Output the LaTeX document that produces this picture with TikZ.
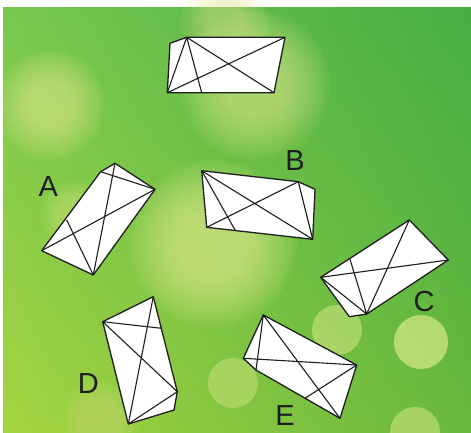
\documentclass[tikz,border=0pt]{standalone}
\usepackage{fontspec}
\newfontfamily\lblfont{Liberation Sans}
\usetikzlibrary{shadings}
\definecolor{GrTL}{RGB}{120,200,80}
\definecolor{GrTR}{RGB}{70,174,68}
\definecolor{GrBL}{RGB}{165,212,64}
\definecolor{GrBR}{RGB}{104,184,62}
\definecolor{Bokeh}{RGB}{236,240,150}
\definecolor{Ink}{RGB}{30,30,30}
% soft bokeh spot: centre, radius, opacity of each ring
\newcommand\softspot[3]{%
  \foreach \k in {0,...,13} \fill[Bokeh,opacity=#3] (#1) circle ({#2*(1-0.045*\k)});}
\begin{document}
\begin{tikzpicture}[x=1pt,y=-1pt,
 shp/.style={draw=Ink,fill=white,line width=1.3pt,line join=round},
 ln/.style={draw=Ink,line width=1.1pt},
 lbl/.style={inner sep=0pt,text=Ink,font=\lblfont\fontsize{29}{29}\selectfont},
 bk/.style={fill=Bokeh,opacity=#1}]
\useasboundingbox (0,0) rectangle (471,432);
% background
\fill[white] (0,0) rectangle (471,432);
\shade[upper left=GrTL,upper right=GrTR,lower left=GrBL,lower right=GrBR] (3,7) rectangle (471,432);
\softspot{225,22}{45}{.04}
\softspot{50,105}{55}{.055}
\softspot{255,85}{75}{.055}
\softspot{213,244}{84}{.065}
\softspot{75,215}{35}{.035}
\softspot{100,420}{40}{.03}
\fill[bk=.45] (337,330) circle (25);
\fill[bk=.6] (421,342) circle (27);
\fill[bk=.35] (233,383) circle (25);
\fill[bk=.45] (415,432) circle (25);
% top shape
\coordinate (t1) at (170,43.3);
\coordinate (t2) at (186.7,37.3);
\coordinate (t3) at (285,37.3);
\coordinate (t4) at (274,92.7);
\coordinate (t5) at (167.3,92.7);
\coordinate (t6) at (201.7,92.7);
\draw[shp] (t1)--(t2)--(t3)--(t4)--(t5)--cycle;
\draw[ln] (t2)--(t5) (t2)--(t6) (t2)--(t4) (t5)--(t3);
% A
\coordinate (a1) at (100.7,171.7);
\coordinate (a2) at (115,163.3);
\coordinate (a3) at (155,189.3);
\coordinate (a4) at (93.3,275);
\coordinate (a5) at (41.7,250.7);
\coordinate (a6) at (66.7,220);
\draw[shp] (a1)--(a2)--(a3)--(a4)--(a5)--cycle;
\draw[ln] (a2)--(a4) (a1)--(a3) (a3)--(a5) (a6)--(a4);
\node[lbl] (la) at (48.3,186.7) {A};
% B
\coordinate (b1) at (201.7,170.7);
\coordinate (b2) at (298.3,181.7);
\coordinate (b3) at (315,189.3);
\coordinate (b4) at (312.7,239.3);
\coordinate (b5) at (206.7,227.3);
\coordinate (b6) at (235,230);
\draw[shp] (b1)--(b2)--(b3)--(b4)--(b5)--cycle;
\draw[ln] (b1)--(b4) (b1)--(b6) (b5)--(b2) (b2)--(b4);
\node[lbl] (lb) at (295,160.7) {B};
% C
\coordinate (c1) at (409.3,220);
\coordinate (c2) at (448.3,260);
\coordinate (c3) at (366.7,314);
\coordinate (c4) at (349.3,316.7);
\coordinate (c5) at (320.7,277.3);
\coordinate (c6) at (350,259.3);
\draw[shp] (c1)--(c2)--(c3)--(c4)--(c5)--cycle;
\draw[ln] (c5)--(c2) (c1)--(c3) (c6)--(c3) (c5)--(c3);
\node[lbl] (lc) at (424,301.7) {C};
% D
\coordinate (d1) at (102.7,321.7);
\coordinate (d2) at (153.3,296.7);
\coordinate (d3) at (177.3,391.7);
\coordinate (d4) at (174,410);
\coordinate (d5) at (128.3,424);
\coordinate (d6) at (161.7,328.3);
\draw[shp] (d1)--(d2)--(d3)--(d4)--(d5)--cycle;
\draw[ln] (d1)--(d6) (d1)--(d3) (d2)--(d5) (d5)--(d3);
\node[lbl] (ld) at (88.3,383.3) {D};
% E
\coordinate (e1) at (263.3,315);
\coordinate (e2) at (356.7,365);
\coordinate (e3) at (340,418.3);
\coordinate (e4) at (256,370);
\coordinate (e5) at (243.3,358.3);
\coordinate (e6) at (305,398.3);
\draw[shp] (e1)--(e2)--(e3)--(e4)--(e5)--cycle;
\draw[ln] (e1)--(e4) (e5)--(e2) (e1)--(e3) (e2)--(e6);
\node[lbl] (le) at (285,415.5) {E};
\end{tikzpicture}
\end{document}
